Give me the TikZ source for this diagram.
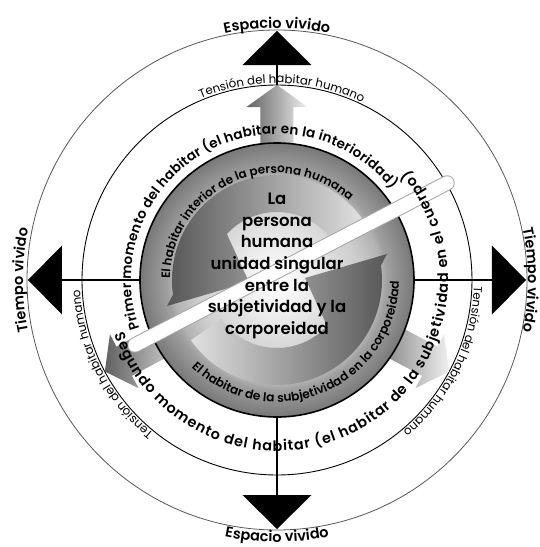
\documentclass[tikz,border=0pt]{standalone}
\usepackage{fontspec}
\setmainfont{Poppins}[BoldFont={Poppins SemiBold}]
\usetikzlibrary{decorations.text,calc}
\newcommand\myBig{\bfseries\fontsize{14.5}{16}\selectfont}
\newcommand\myPri{\bfseries\fontsize{13.6}{15}\selectfont}
\newcommand\mySeg{\bfseries\fontsize{14.4}{15}\selectfont}
\newcommand\myRing{\bfseries\fontsize{12}{13}\selectfont}
\newcommand\myRingB{\bfseries\fontsize{12.2}{13}\selectfont}
\newcommand\myTen{\fontsize{11.8}{13}\selectfont}
\pgfdeclareradialshading{sphereshade}{\pgfpoint{0bp}{0bp}}{color(0bp)=(white); color(7bp)=(white!92!black); color(15bp)=(white!80!black); color(19bp)=(white!70!black); color(20bp)=(white!63!black); color(25bp)=(white!47!black); color(50bp)=(white!47!black)}
\tikzset{
  curvtext/.style={decoration={text along path, text align=center, text={#1}}, decorate},
  fittext/.style={decoration={text along path, text align=fit to path, text={#1}}, decorate},
  axisline/.style={line width=1.6pt, black},
  bigtri/.style={fill=black},
  greyarrow/.style={left color=black!62, right color=black!6},
}
\begin{document}
\begin{tikzpicture}[x=1pt,y=1pt]
\useasboundingbox[fill=white] (-277,-267) rectangle (262,280);
\coordinate (O) at (0,0);
% circles
\draw[line width=0.8pt, black!65] (O) circle[radius=250];
\draw[line width=0.9pt, black] (O) circle[radius=195];
% axes and triangles
\foreach \a/\n in {90/N,180/W,270/S,0/E}{
  \coordinate (base\n) at (\a:215);
  \coordinate (apex\n) at (\a:249);
  \coordinate (cl\n) at ($(\a:215)+(\a+90:34.5)$);
  \coordinate (cr\n) at ($(\a:215)+(\a-90:34.5)$);
  \draw[axisline] (O) -- (base\n);
  \fill[bigtri] (apex\n) -- (cl\n) -- (cr\n) -- cycle;
}
% grey tension arrows
\foreach \a in {90,208,332}{
  \begin{scope}[rotate=\a-90]
    \shade[greyarrow] (-16.5,100) -- (-16.5,173) -- (-30.5,173) -- (0,195) -- (30.5,173) -- (16.5,173) -- (16.5,100) -- cycle;
  \end{scope}
}
% sphere
\shade[shading=sphereshade] (O) circle[radius=137];
% S arrows
\shade[left color=black!66, right color=black!12]
  (35:105) arc[start angle=35, end angle=188, radius=105] -- (-110,-26) -- (-28,-2) -- (-52,50) -- (140:68) arc[start angle=140, end angle=35, radius=68] -- cycle;
\shade[left color=black!12, right color=black!66]
  (215:105) arc[start angle=215, end angle=368, radius=105] -- (110,26) -- (28,2) -- (52,-50) -- (320:68) arc[start angle=320, end angle=215, radius=68] -- cycle;
\draw[line width=1.6pt] (O) circle[radius=137];
% ring texts
\path[curvtext={|\myRing|El habitar interior de la persona humana}] (203.5:107) arc[start angle=203.5, end angle=23.5, radius=107];
\path[curvtext={|\myRingB|El habitar de la subjetividad en la corporeidad}] (200:122) arc[start angle=200, end angle=385, radius=122];
% white bar
\coordinate (barA) at (-142,-65);
\coordinate (barB) at (170,97);
\draw[line width=15.5pt, line cap=round, black!35] (barA) -- (barB);
\draw[line width=13.5pt, line cap=round, white] (barA) -- (barB);
% centre text
\node[align=center, font=\bfseries\fontsize{16.5}{21.7}\selectfont, inner sep=0pt] (ctr) at (0,14) {La\\persona\\humana\\unidad singular\\entre la\\subjetividad y la\\corporeidad};
% momento texts
\path[fittext={|\myPri|Primer momento del habitar (el habitar en la interioridad)}] (199.5:146) arc[start angle=199.5, end angle=38.5, radius=146];
\path[fittext={|\mySeg|Segundo momento del habitar (el habitar de la subjetividad en el cuerpo)}] (198.5:171) arc[start angle=198.5, end angle=400, radius=171];
% tension texts
\foreach \c in {88.5,207,334}{
  \path[curvtext={|\myTen|Tensión del habitar humano}] (\c+40:197) arc[start angle=\c+40, end angle=\c-40, radius=197];
}
% outer labels
\path[curvtext={|\myBig|Espacio vivido}] (122:252) arc[start angle=122, end angle=58, radius=252];
\path[curvtext={|\myBig|Espacio vivido}] (240:262) arc[start angle=240, end angle=300, radius=262];
\path[curvtext={|\myBig|Tiempo vivido}] (210:254) arc[start angle=210, end angle=150, radius=254];
\path[curvtext={|\myBig|Tiempo vivido}] (30:251) arc[start angle=30, end angle=-30, radius=251];
\end{tikzpicture}
\end{document}
